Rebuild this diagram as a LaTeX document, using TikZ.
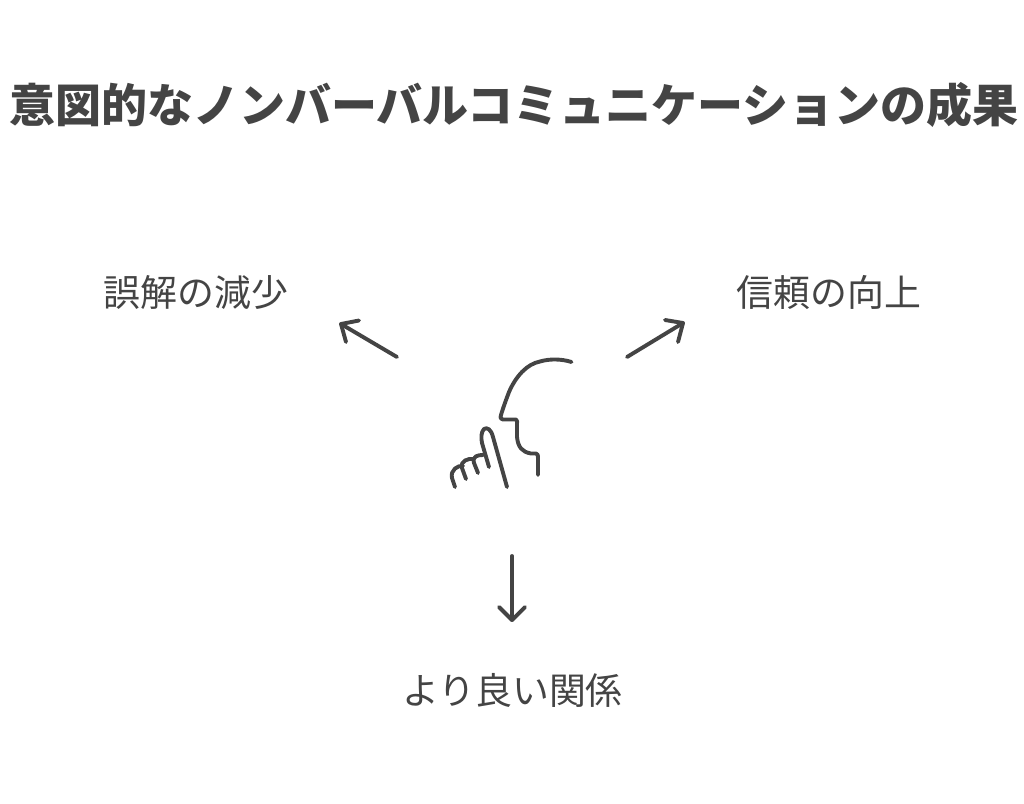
\documentclass[tikz,border=0pt]{standalone}
\usepackage{fontspec}
\setmainfont{Noto Sans CJK JP}
\definecolor{ink}{HTML}{444444}
\tikzset{
  title/.style={text=ink,font=\fontsize{46}{50}\selectfont\bfseries,inner sep=0pt,anchor=center},
  label/.style={text=ink,font=\fontsize{36.9}{40}\selectfont,inner sep=0pt,anchor=center},
  sketch/.style={draw=ink,line width=3.9pt,line cap=round,line join=round},
}
\begin{document}
\begin{tikzpicture}[x=1pt,y=-1pt]
\useasboundingbox (0,0) rectangle (1024,803);
\node[title] (t) at (514,104.5) {意図的なノンバーバルコミュニケーションの成果};
\node[label] (a) at (196,292.5) {誤解の減少};
\node[label] (b) at (829,292.5) {信頼の向上};
\node[label] (c) at (512.5,690.5) {より良い関係};
% arrows
\coordinate (a1) at (397,357);
\coordinate (a2) at (341,324);
\coordinate (b1) at (627,357);
\coordinate (b2) at (683,323);
\coordinate (c1) at (512,556);
\coordinate (c2) at (512,620);
\draw[sketch] (a1) -- (a2);
\draw[sketch] (359,320.5) -- (a2) -- (346,342);
\draw[sketch] (b1) -- (b2);
\draw[sketch] (665,320) -- (b2) -- (678,342);
\draw[sketch] (c1) -- (c2);
\draw[sketch] (499,607) -- (c2) -- (525,607);
% head
\draw[sketch] (571.5,362) .. controls (562,359) and (550,358.5) .. (540,361.5)
  .. controls (527,364) and (516,376) .. (509,392)
  .. controls (506,400) and (503,408) .. (501,415)
  .. controls (500,418) and (501,419.5) .. (503,419.5)
  -- (516,419.5) .. controls (517.5,420) and (517,422) .. (517,425)
  -- (517,437) .. controls (518,447) and (522,452) .. (531,453.5)
  -- (536,453.5) .. controls (538,454) and (538,455) .. (538,458) -- (538,475);
% finger
\draw[sketch] (507,487) -- (493,437) .. controls (491,429) and (487,427) .. (484,429)
  .. controls (481,432) and (481,438) .. (482,443) -- (489,467);
\draw[sketch] (483,455) .. controls (478,455) and (472,456) .. (474,463) -- (478,473);
\draw[sketch] (474,459) .. controls (468,458) and (460,461) .. (462,468) -- (466,479);
\draw[sketch] (463,466) .. controls (458,465) and (450,470) .. (452,478) -- (455,487);
\end{tikzpicture}
\end{document}
